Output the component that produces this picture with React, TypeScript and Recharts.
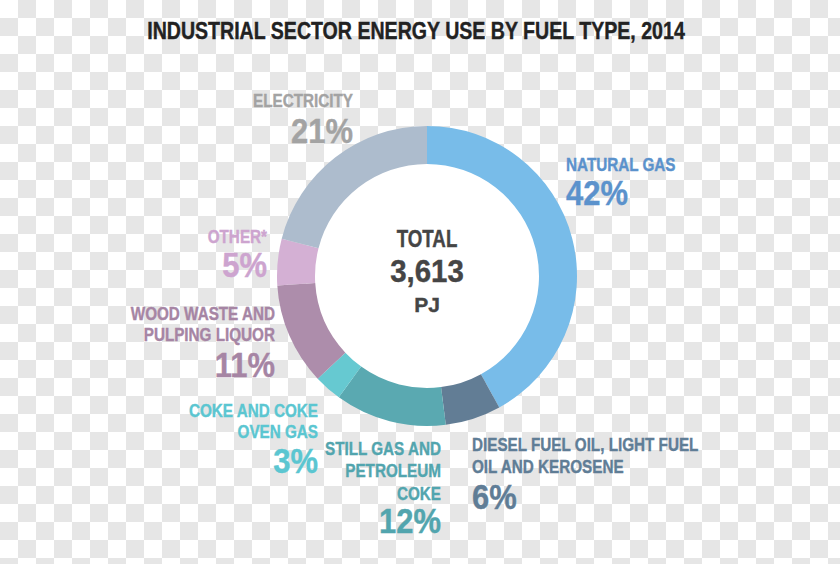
import React, { useLayoutEffect } from "react";
import { PieChart, Pie, Cell } from "recharts";

const categories = [
  "NATURAL GAS",
  "DIESEL FUEL OIL, LIGHT FUEL OIL AND KEROSENE",
  "STILL GAS AND PETROLEUM COKE",
  "COKE AND COKE OVEN GAS",
  "WOOD WASTE AND PULPING LIQUOR",
  "OTHER*",
  "ELECTRICITY",
];
const shares = [42, 6, 12, 3, 11, 5, 21];
const labelLines = [
  ["NATURAL GAS"],
  ["DIESEL FUEL OIL, LIGHT FUEL", "OIL AND KEROSENE"],
  ["STILL GAS AND", "PETROLEUM", "COKE"],
  ["COKE AND COKE", "OVEN GAS"],
  ["WOOD WASTE AND", "PULPING LIQUOR"],
  ["OTHER*"],
  ["ELECTRICITY"],
];
const title = "INDUSTRIAL SECTOR ENERGY USE BY FUEL TYPE, 2014";
const centerLines = ["TOTAL", "3,613", "PJ"];

const sliceColors = ["#78bce9", "#627d95", "#5aa9b1", "#66c9d1", "#ad8dab", "#d4b0d4", "#adbccd"];
const textColors = ["#5b92cc", "#5f7d96", "#52a5ae", "#5bc6d1", "#a685a4", "#cda4cf", "#a3a3a3"];

// label layout relative to pie centre: anchor, x, line baselines, percent baseline
const labelLayout = [
  { anchor: "start", x: 139, lines: [-105], pct: -71 },
  { anchor: "start", x: 45, lines: [175, 197], pct: 233 },
  { anchor: "end", x: 14, lines: [179, 201, 224], pct: 257 },
  { anchor: "end", x: -109, lines: [141, 162], pct: 197 },
  { anchor: "end", x: -152, lines: [44, 65], pct: 101 },
  { anchor: "end", x: -160, lines: [-33], pct: 1 },
  { anchor: "end", x: -74, lines: [-169], pct: -133 },
];

const data = categories.map((name, i) => ({ name, value: shares[i] }));
const holeData = [{ name: "hole", value: 1 }];

const FONT = "'Liberation Sans', Arial, sans-serif";
const CELL = 18;

const CText = ({ x, y, anchor, size, sx, fill, children }: any) => (
  <text
    transform={`translate(${x} ${y}) scale(${sx} 1)`}
    x={0}
    y={0}
    textAnchor={anchor}
    fill={fill}
    stroke={fill}
    strokeWidth={0.4}
    fontFamily={FONT}
    fontWeight={700}
    fontSize={size}
  >
    {children}
  </text>
);

const renderLabel = (props: any) => {
  const { cx, cy, index } = props;
  const lay = labelLayout[index];
  const color = textColors[index];
  return (
    <g>
      {labelLines[index].map((t, j) => (
        <CText key={j} x={cx + lay.x} y={cy + lay.lines[j]} anchor={lay.anchor} size={18.6} sx={0.82} fill={color}>
          {t}
        </CText>
      ))}
      <CText x={cx + lay.x} y={cy + lay.pct} anchor={lay.anchor} size={36} sx={0.86} fill={color}>
        {shares[index] + "%"}
      </CText>
      {index === 0 ? (
        <g>
          <CText x={cx} y={cy - 29} anchor="middle" size={24} sx={0.78} fill="#454545">
            {centerLines[0]}
          </CText>
          <CText x={cx} y={cy + 6} anchor="middle" size={32} sx={0.92} fill="#454545">
            {centerLines[1]}
          </CText>
          <CText x={cx} y={cy + 36} anchor="middle" size={21} sx={1.0} fill="#454545">
            {centerLines[2]}
          </CText>
        </g>
      ) : null}
    </g>
  );
};

const Checker = () => {
  const cells: React.ReactNode[] = [];
  for (let r = 0; r * CELL < 564; r++) {
    for (let c = 0; c * CELL < 840; c++) {
      if ((r + c) % 2 === 1) {
        cells.push(<rect key={r + "-" + c} x={c * CELL} y={r * CELL} width={CELL} height={CELL} fill="#e6e6e6" />);
      }
    }
  }
  return (
    <svg width={840} height={564} style={{ position: "absolute", left: 0, top: 0, zIndex: 0 }}>
      <rect x={0} y={0} width={840} height={564} fill="#ffffff" />
      {cells}
    </svg>
  );
};

export default function App() {
  useLayoutEffect(() => {
    document.body.style.margin = "0";
  }, []);
  return (
    <div
      style={{
        position: "relative",
        width: 840,
        height: 564,
        overflow: "hidden",
      }}
    >
      <Checker />
      <div
        style={{
          position: "absolute",
          left: 0,
          top: 17,
          width: 832,
          textAlign: "center",
          fontFamily: FONT,
          fontWeight: 700,
          fontSize: 23.3,
          color: "#222222",
          lineHeight: "28px",
          transform: "scaleX(0.84)",
          transformOrigin: "416px 0",
          whiteSpace: "nowrap",
          zIndex: 1,
          WebkitTextStroke: "0.4px #222222",
        }}
      >
        {title}
      </div>
      <div style={{ position: "absolute", left: 0, top: 0, zIndex: 2 }}>
        <PieChart width={840} height={564} margin={{ top: 0, right: 0, bottom: 0, left: 0 }}>
          <Pie
            data={holeData}
            dataKey="value"
            cx={427}
            cy={276}
            innerRadius={0}
            outerRadius={113}
            fill="#ffffff"
            stroke="none"
            isAnimationActive={false}
          />
          <Pie
            data={data}
            dataKey="value"
            nameKey="name"
            cx={427}
            cy={276}
            innerRadius={112}
            outerRadius={150}
            startAngle={90}
            endAngle={-270}
            stroke="none"
            label={renderLabel}
            labelLine={false}
            isAnimationActive={false}
          >
            {data.map((d, i) => (
              <Cell key={d.name} fill={sliceColors[i]} />
            ))}
          </Pie>
        </PieChart>
      </div>
    </div>
  );
}
